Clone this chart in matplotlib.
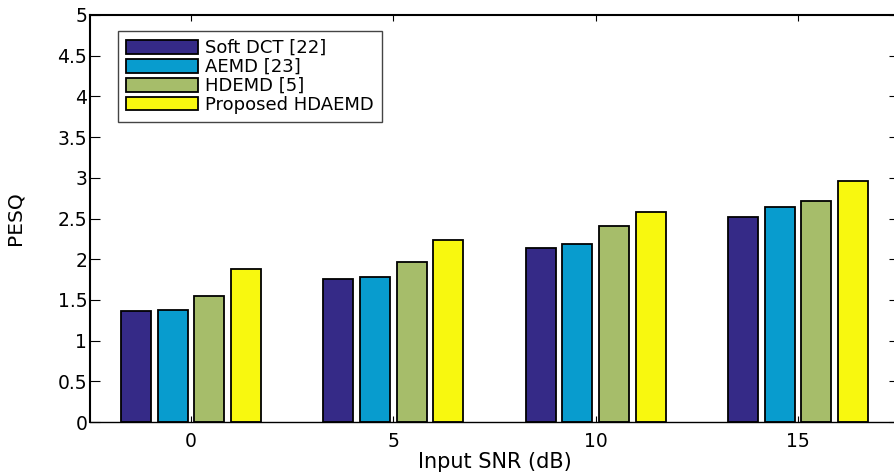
import matplotlib.pyplot as plt
import numpy as np

plt.rcParams['font.family'] = ['DejaVu Sans']

snr = [0, 5, 10, 15]
methods = ['Soft DCT [22]', 'AEMD [23]', 'HDEMD [5]', 'Proposed HDAEMD']
soft_dct = [1.36, 1.76, 2.14, 2.52]
aemd = [1.38, 1.785, 2.19, 2.64]
hdemd = [1.55, 1.97, 2.41, 2.71]
hdaemd = [1.88, 2.23, 2.58, 2.96]
colors = ['#352A87', '#089CCE', '#A6BD6A', '#F8F80F']

series = [soft_dct, aemd, hdemd, hdaemd]
offsets = [-1.36, -0.45, 0.45, 1.36]
width = 0.74

fig = plt.figure(figsize=(8.94, 4.73), dpi=100)
ax = fig.add_axes([0.1007, 0.1078, 0.9049, 0.8605])

x = np.array(snr, dtype=float)
for vals, off, col, name in zip(series, offsets, colors, methods):
    ax.bar(x + off, vals, width, color=col, edgecolor='black', linewidth=1.3, label=name)

ax.set_xlim(-2.5, 17.5)
ax.set_ylim(0, 5)
ax.set_xticks(snr)
ax.set_yticks(np.arange(0, 5.01, 0.5))
ax.set_yticklabels(['0', '0.5', '1', '1.5', '2', '2.5', '3', '3.5', '4', '4.5', '5'])

ax.tick_params(axis='both', direction='in', labelsize=13.5, top=True, right=True)
ax.tick_params(axis='x', length=4.5, pad=7)
ax.tick_params(axis='y', length=7, pad=2)
for s in ['left', 'top']:
    ax.spines[s].set_linewidth(1.5)
for s in ['bottom', 'right']:
    ax.spines[s].set_linewidth(1.0)

ax.set_xlabel('Input SNR (dB)', fontsize=15)
ax.set_ylabel('PESQ', fontsize=14.5)
ax.xaxis.set_label_coords(0.5, -0.098)
ax.xaxis.label.set_verticalalignment('center')
ax.yaxis.set_label_coords(-0.093, 0.5)
ax.yaxis.label.set_verticalalignment('center')

leg = ax.legend(loc='upper left', bbox_to_anchor=(0.0346, 0.9607), borderaxespad=0,
                fontsize=13, handlelength=4.0, handleheight=0.8, labelspacing=0.05,
                handletextpad=0.35, borderpad=0.45, fancybox=False, framealpha=1)
leg.get_frame().set_edgecolor('#444444')
leg.get_frame().set_linewidth(1.0)

fig.savefig('out.png', dpi=100)
